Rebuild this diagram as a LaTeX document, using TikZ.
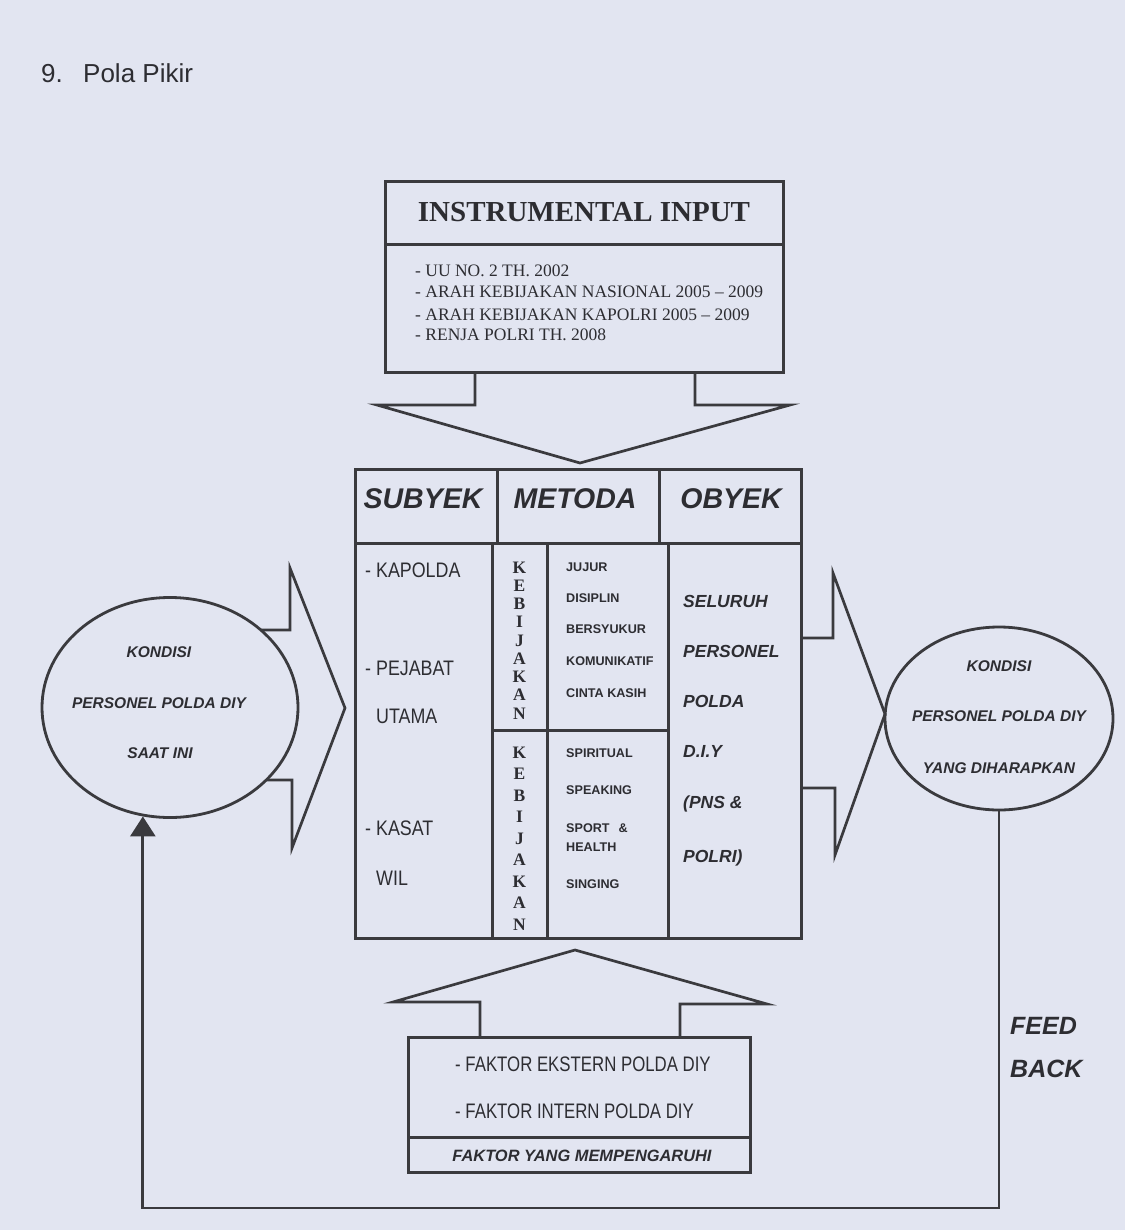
\documentclass[tikz,border=0pt]{standalone}
\usepackage{fontspec}
\setmainfont{Liberation Sans}
\newfontfamily\serif{Liberation Serif}
\newfontfamily\narrow[FakeStretch=0.85]{Liberation Sans}
\newfontfamily\narrowb[FakeStretch=0.80]{Liberation Sans}
\usetikzlibrary{shapes.geometric,arrows.meta}
\definecolor{bg}{RGB}{226,229,241}
\definecolor{ink}{RGB}{58,58,62}
\definecolor{txt}{RGB}{45,45,50}
\begin{document}
\begin{tikzpicture}[x=1pt,y=-1pt,
  box/.style={draw=ink, line width=3pt, line join=miter},
  blk/.style={draw=ink, line width=2.7pt, line join=miter},
  lbl/.style={text=txt, inner sep=0pt, anchor=base west},
  ctr/.style={text=txt, inner sep=0pt, anchor=base},
  ell/.style={ellipse, draw=ink, line width=2.8pt, inner sep=0pt},
  fb/.style={draw=ink, line width=2.8pt, -{Triangle[width=25pt,length=20pt]}},
  listf/.style={font=\serif\fontsize{17.5}{21}\selectfont},
  headf/.style={font=\bfseries\itshape\fontsize{28.5}{30}\selectfont},
  subf/.style={font=\narrow\fontsize{21}{24}\selectfont},
  kebf/.style={font=\serif\bfseries\fontsize{17.5}{18}\selectfont},
  metf/.style={font=\bfseries\fontsize{12.6}{14}\selectfont},
  obyf/.style={font=\bfseries\itshape\fontsize{17.5}{20}\selectfont},
  ellf/.style={font=\bfseries\itshape\fontsize{15.5}{18}\selectfont},
  facf/.style={font=\narrowb\fontsize{21}{24}\selectfont}
]
\fill[bg] (0,0) rectangle (1125,1230);
\useasboundingbox (0,0) rectangle (1125,1230);

% title
\node[lbl, font=\fontsize{26}{30}\selectfont] (t9) at (41,83) {9.};
\node[lbl, font=\fontsize{26}{30}\selectfont] (tpp) at (83,83) {Pola Pikir};

% instrumental input
\draw[box] (385,182) rectangle (783,372);
\draw[box] (385,245) -- (783,245);
\node[ctr, font=\serif\bfseries\fontsize{29}{32}\selectfont] (ii) at (584,222) {INSTRUMENTAL INPUT};
\node[lbl, listf] (l1) at (415,277) {- UU NO. 2 TH. 2002};
\node[lbl, listf] (l2) at (415,298) {- ARAH KEBIJAKAN NASIONAL 2005 – 2009};
\node[lbl, listf] (l3) at (415,320) {- ARAH KEBIJAKAN KAPOLRI 2005 – 2009};
\node[lbl, listf] (l4) at (415,340) {- RENJA POLRI TH. 2008};

% down block arrow
\draw[blk] (475,372) -- (475,405) -- (377,405) -- (580,463) -- (790,405) -- (695,405) -- (695,372);

% table
\draw[box] (355,469) rectangle (801,938);
\draw[box] (355,543) -- (801,543);
\draw[box] (497,469) -- (497,543);
\draw[box] (659,469) -- (659,543);
\draw[box] (492,543) -- (492,938);
\draw[box] (547,543) -- (547,938);
\draw[box] (668,543) -- (668,938);
\draw[box] (492,730) -- (668,730);

\node[ctr, headf] (hs) at (423,508) {SUBYEK};
\node[ctr, headf] (hm) at (575,508) {METODA};
\node[ctr, headf] (ho) at (731,508) {OBYEK};

\node[lbl, subf] (s1) at (365,577) {- KAPOLDA};
\node[lbl, subf] (s2) at (365,675) {- PEJABAT};
\node[lbl, subf] (s3) at (376,723) {UTAMA};
\node[lbl, subf] (s4) at (365,835) {- KASAT};
\node[lbl, subf] (s5) at (376,885) {WIL};

\foreach \ch [count=\i from 0] in {K,E,B,I,J,A,K,A,N}{
  \node[ctr, kebf] (ka\i) at (519.5,573+18.25*\i) {\ch};
  \node[ctr, kebf] (kb\i) at (519.5,758+21.5*\i) {\ch};
}

\node[lbl, metf] (m1) at (566,571) {JUJUR};
\node[lbl, metf] (m2) at (566,602) {DISIPLIN};
\node[lbl, metf] (m3) at (566,633) {BERSYUKUR};
\node[lbl, metf] (m4) at (566,665) {KOMUNIKATIF};
\node[lbl, metf] (m5) at (566,697) {CINTA KASIH};
\node[lbl, metf] (m6) at (566,757) {SPIRITUAL};
\node[lbl, metf] (m7) at (566,794) {SPEAKING};
\node[lbl, metf] (m8) at (566,832) {SPORT\hspace{9pt}\&};
\node[lbl, metf] (m9) at (566,851) {HEALTH};
\node[lbl, metf] (m10) at (566,888) {SINGING};

\node[lbl, obyf] (o1) at (683,607) {SELURUH};
\node[lbl, obyf] (o2) at (683,657) {PERSONEL};
\node[lbl, obyf] (o3) at (683,707) {POLDA};
\node[lbl, obyf] (o4) at (683,757) {D.I.Y};
\node[lbl, obyf] (o5) at (683,808) {(PNS \&};
\node[lbl, obyf] (o6) at (683,862) {POLRI)};

% left ellipse
\node[ell, minimum width=256pt, minimum height=220pt] (cur) at (170,707.5) {};
\node[ctr, ellf] (c1) at (159,657) {KONDISI};
\node[ctr, ellf] (c2) at (159,708) {PERSONEL POLDA DIY};
\node[ctr, ellf] (c3) at (160,758) {SAAT INI};

% left block arrow
\draw[blk] (261,630) -- (290,630) -- (290,568) -- (345,708) -- (292,848) -- (292,780) -- (266,780);

% right block arrow
\draw[blk] (801,638) -- (833,638) -- (833,573) -- (885,714) -- (835,855) -- (835,788) -- (801,788);

% right ellipse
\node[ell, minimum width=228pt, minimum height=183pt] (des) at (999,718.5) {};
\node[ctr, ellf] (d1) at (999,671) {KONDISI};
\node[ctr, ellf] (d2) at (999,721) {PERSONEL POLDA DIY};
\node[ctr, ellf] (d3) at (999,773) {YANG DIHARAPKAN};

% bottom up arrow and box
\draw[blk] (480,1037) -- (480,1002) -- (393,1002) -- (575,950) -- (767,1004) -- (680,1004) -- (680,1037);
\draw[box] (408,1037) rectangle (750,1172);
\draw[box] (408,1137) -- (750,1137);
\node[lbl, facf] (f1) at (455,1071) {- FAKTOR EKSTERN POLDA DIY};
\node[lbl, facf] (f2) at (455,1118) {- FAKTOR INTERN POLDA DIY};
\node[ctr, font=\bfseries\itshape\fontsize{16.4}{19}\selectfont] (f3) at (582,1161) {FAKTOR YANG MEMPENGARUHI};

% feedback
\draw[fb] (des.south) |- (cur.-104 |- 0,1208) -- (cur.-104);
\node[lbl, font=\bfseries\itshape\fontsize{25}{28}\selectfont] (fe1) at (1010,1034) {FEED};
\node[lbl, font=\bfseries\itshape\fontsize{25}{28}\selectfont] (fe2) at (1010,1077) {BACK};
\end{tikzpicture}
\end{document}
